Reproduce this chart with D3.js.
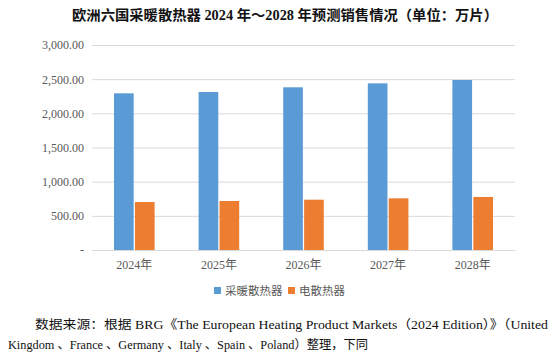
<!DOCTYPE html>
<html><head><meta charset="utf-8">
<script src="https://cdn.jsdelivr.net/npm/d3@7"></script>
<style>body{margin:0;background:#fff;}svg{display:block;}</style>
</head><body>
<svg id="c" width="554" height="355"></svg>
<script>
const categories = ["2024年","2025年","2026年","2027年","2028年"];
const seriesNames = ["采暖散热器","电散热器"];
const radiatorValues = [2293, 2312, 2381, 2439, 2488];
const electricValues = [702, 717, 736, 756, 776];
const yTicks = [0, 500, 1000, 1500, 2000, 2500, 3000];
const title = "欧洲六国采暖散热器 2024 年～2028 年预测销售情况（单位：万片）";
const noteLine1 = "数据来源：根据 BRG《The European Heating Product Markets（2024 Edition）》（United";
const noteLine2 = "Kingdom 、France 、Germany 、Italy 、Spain 、Poland）整理，下同";

(function(){
const colors = ["#5B9BD5", "#ED7D31"];
const svg = d3.select("#c");
const serif = "'Liberation Serif','Noto Sans CJK SC',serif";

const pLeft = 92, pRight = 515, pTop = 45, pBottom = 250;
const x = d3.scaleBand().domain(categories).range([pLeft, pRight]).paddingInner(0.52).paddingOuter(0.26);
const x1 = d3.scaleBand().domain(seriesNames).range([0, x.bandwidth()]).paddingInner(0.06);
const y = d3.scaleLinear().domain([0, 3000]).range([pBottom, pTop]);

svg.append("text").attr("x", 285).attr("y", 20).attr("text-anchor", "middle")
  .attr("font-family", serif).attr("font-weight", "bold").attr("font-size", 14).attr("fill", "#111")
  .attr("textLength", 426).attr("lengthAdjust", "spacingAndGlyphs")
  .text(title);

const yAxis = d3.axisLeft(y).tickValues(yTicks).tickSize(-(pRight - pLeft)).tickPadding(8)
  .tickFormat(d => d === 0 ? "-" : d3.format(",.2f")(d));
const ga = svg.append("g").attr("transform", `translate(${pLeft},0)`).call(yAxis);
ga.select(".domain").remove();
ga.selectAll(".tick line").attr("stroke", "#d9d9d9").attr("stroke-width", 1);
ga.selectAll(".tick text").attr("font-family", serif).attr("font-size", 12).attr("fill", "#595959");

const data = categories.map((c, i) => ({c, vals: [radiatorValues[i], electricValues[i]]}));
const grp = svg.append("g").selectAll("g").data(data).join("g")
  .attr("transform", d => `translate(${x(d.c)},0)`);
grp.selectAll("rect").data(d => d.vals.map((v, j) => ({s: seriesNames[j], v, j}))).join("rect")
  .attr("x", d => x1(d.s)).attr("width", x1.bandwidth())
  .attr("y", d => y(d.v)).attr("height", d => y(0) - y(d.v))
  .attr("fill", d => colors[d.j]);

const xa = svg.append("g").attr("transform", `translate(0,${pBottom})`).call(d3.axisBottom(x).tickSize(0).tickPadding(10));
xa.select(".domain").attr("stroke", "#d9d9d9");
xa.selectAll(".tick text").attr("font-family", serif).attr("font-size", 12).attr("fill", "#595959");

const lg = svg.append("g");
const legendX = [214, 288];
seriesNames.forEach((n, i) => {
  lg.append("rect").attr("x", legendX[i]).attr("y", 287).attr("width", 7).attr("height", 7).attr("fill", colors[i]);
  lg.append("text").attr("x", legendX[i] + 11).attr("y", 294.5).attr("font-family", serif)
    .attr("font-size", 11.5).attr("fill", "#595959").text(n);
});

svg.append("text").attr("x", 35).attr("y", 329).attr("font-family", serif).attr("font-size", 12.5)
  .attr("fill", "#111").attr("textLength", 513).attr("lengthAdjust", "spacingAndGlyphs").text(noteLine1);
svg.append("text").attr("x", 8).attr("y", 349).attr("font-family", serif).attr("font-size", 12.5)
  .attr("fill", "#111").attr("textLength", 360).attr("lengthAdjust", "spacingAndGlyphs").text(noteLine2);
})();
</script>
</body></html>
